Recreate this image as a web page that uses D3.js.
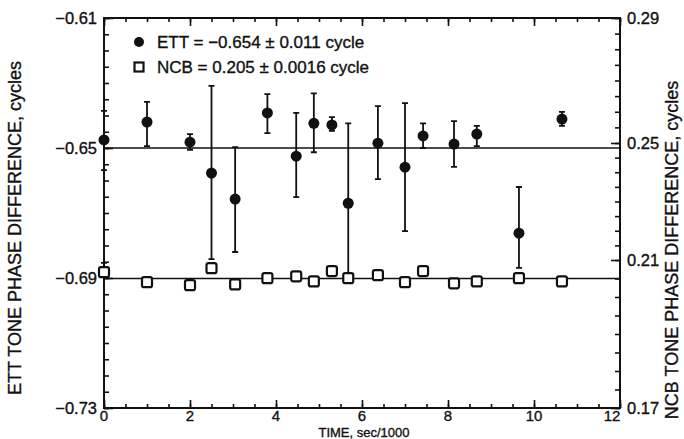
<!DOCTYPE html>
<meta charset="utf-8">
<title>ETT / NCB tone phase difference</title>

<style>

html, body {
  margin: 0;
  padding: 0;
  width: 684px;
  height: 439px;
  background: #fff;
}

svg {
  display: block;
}

text {
  font-family: "Liberation Sans", Arial, sans-serif;
  fill: #111;
  stroke: #111;
  stroke-width: 0.35px;
}

.frame {
  fill: none;
  stroke: #111;
  stroke-width: 2;
}

.tick line {
  stroke: #111;
  stroke-width: 1.6;
}

.bar {
  stroke: #111;
  stroke-width: 1.8;
}

.level {
  stroke: #111;
  stroke-width: 1.6;
}

</style>

<body>
<svg width="684" height="439"></svg>
</body>

<script src="https://d3js.org/d3.v7.min.js"></script>
<script>

// time, sec/1000
var times = [0, 1, 2, 2.5, 3.05, 3.8, 4.47, 4.88, 5.3, 5.68, 6.37, 7, 7.42, 8.14, 8.67, 9.65, 10.65];

// ETT tone phase difference (cycles), with error bar ends
var ettValues = [-0.6475, -0.642, -0.6482, -0.6577, -0.6657, -0.6392, -0.6525, -0.6424, -0.6429, -0.667, -0.6485, -0.6559, -0.6463, -0.6488, -0.6457, -0.6762, -0.6411];
var ettHigh   = [-0.6386, -0.6358, -0.6457, -0.6309, -0.6497, -0.6334, -0.6392, -0.6332, -0.6405, -0.6424, -0.6371, -0.6362, -0.6424, -0.6417, -0.6432, -0.662, -0.6389];
var ettLow    = [-0.6568, -0.6494, -0.6506, -0.6842, -0.682, -0.6454, -0.6651, -0.6513, -0.6447, -0.6897, -0.6596, -0.6756, -0.65, -0.6558, -0.6494, -0.6869, -0.6432];

// NCB tone phase difference (cycles)
var ncbValues = [0.2067, 0.204, 0.2032, 0.2078, 0.2034, 0.2051, 0.2056, 0.2042, 0.207, 0.2051, 0.2059, 0.204, 0.207, 0.2037, 0.2042, 0.2051, 0.2042];
var ncbHigh   = [0.2092, null, null, null, null, null, null, null, null, null, null, null, null, null, null, null, null];

var ettLevel = -0.65,
    ncbLevel = 0.205;

var xTicks = [0, 2, 4, 6, 8, 10, 12];
var leftTicks = [-0.61, -0.65, -0.69, -0.73];
var rightTicks = [0.29, 0.25, 0.21, 0.17];

var legendLabels = [
  "ETT = \u22120.654 \u00b1 0.011 cycle",
  "NCB = 0.205 \u00b1 0.0016 cycle"
];

var svg = d3.select("svg");

var pLeft = 104, pRight = 620, pTop = 18, pBottom = 408;

var x = d3.scaleLinear().domain([0, 12]).range([pLeft, pRight]);
var yL = d3.scaleLinear().domain([-0.73, -0.61]).range([pBottom, pTop]);
// the scanned right axis is not evenly spaced
var yR = d3.scaleLinear().domain([0.17, 0.21, 0.25, 0.29]).range([pBottom, 260, 143, pTop]);

function fmt(v) {
  return d3.format(".2f")(v).replace("-", "\u2212");
}

function minor(a, b, step) {
  return d3.range(Math.round((b - a) / step) + 1).map(function(i) { return a + i * step; });
}

function noDomain(g) { g.select(".domain").remove(); }

// axes, all ticks pointing inward
svg.append("g")
    .attr("transform", "translate(0," + pBottom + ")")
    .call(d3.axisTop(x).tickValues(minor(0, 12, 0.5)).tickSize(4).tickFormat(""))
    .call(noDomain);
svg.append("g")
    .attr("transform", "translate(0," + pBottom + ")")
    .call(d3.axisTop(x).tickValues(xTicks).tickSize(8).tickFormat(""))
    .call(noDomain);
svg.append("g")
    .attr("transform", "translate(0," + pTop + ")")
    .call(d3.axisBottom(x).tickValues(minor(0, 12, 0.5)).tickSize(4).tickFormat(""))
    .call(noDomain);
svg.append("g")
    .attr("transform", "translate(0," + pTop + ")")
    .call(d3.axisBottom(x).tickValues(xTicks).tickSize(8).tickFormat(""))
    .call(noDomain);

svg.append("g")
    .attr("transform", "translate(" + pLeft + ",0)")
    .call(d3.axisRight(yL).tickValues(minor(-0.73, -0.61, 0.005)).tickSize(5).tickFormat(""))
    .call(noDomain);
svg.append("g")
    .attr("transform", "translate(" + pLeft + ",0)")
    .call(d3.axisRight(yL).tickValues(leftTicks).tickSize(9).tickFormat(""))
    .call(noDomain);

svg.append("g")
    .attr("transform", "translate(" + pRight + ",0)")
    .call(d3.axisLeft(yR).tickValues(minor(0.17, 0.29, 0.005)).tickSize(5).tickFormat(""))
    .call(noDomain);
svg.append("g")
    .attr("transform", "translate(" + pRight + ",0)")
    .call(d3.axisLeft(yR).tickValues(rightTicks).tickSize(9).tickFormat(""))
    .call(noDomain);

svg.append("rect")
    .attr("class", "frame")
    .attr("x", pLeft)
    .attr("y", pTop)
    .attr("width", pRight - pLeft)
    .attr("height", pBottom - pTop);

// tick labels
svg.selectAll(".xlab")
  .data(xTicks)
  .enter().append("text")
    .attr("x", function(d) { return x(d) - (d === 12 ? 8 : 0); })
    .attr("y", pBottom + 13)
    .attr("text-anchor", "middle")
    .style("font-size", "15px")
    .text(function(d) { return d; });

svg.selectAll(".llab")
  .data(leftTicks)
  .enter().append("text")
    .attr("x", pLeft - 7)
    .attr("y", function(d) { return yL(d); })
    .attr("dy", "0.35em")
    .attr("text-anchor", "end")
    .style("font-size", "16.5px")
    .text(fmt);

svg.selectAll(".rlab")
  .data(rightTicks)
  .enter().append("text")
    .attr("x", pRight + 7)
    .attr("y", function(d) { return yR(d); })
    .attr("dy", "0.35em")
    .style("font-size", "16.5px")
    .text(fmt);

// axis titles
svg.append("text")
    .attr("x", (pLeft + pRight) / 2 + 2)
    .attr("y", 436.5)
    .attr("text-anchor", "middle")
    .style("font-size", "13px")
    .text("TIME, sec/1000");

svg.append("text")
    .attr("transform", "translate(21,228) rotate(-90)")
    .attr("text-anchor", "middle")
    .style("font-size", "18px")
    .text("ETT TONE PHASE DIFFERENCE, cycles");

svg.append("text")
    .attr("transform", "translate(678,250) rotate(-90)")
    .attr("text-anchor", "middle")
    .style("font-size", "18px")
    .text("NCB TONE PHASE DIFFERENCE, cycles");

// mean levels
svg.append("line")
    .attr("class", "level")
    .attr("x1", pLeft).attr("x2", pRight)
    .attr("y1", yL(ettLevel)).attr("y2", yL(ettLevel));
svg.append("line")
    .attr("class", "level")
    .attr("x1", pLeft).attr("x2", pRight)
    .attr("y1", yR(ncbLevel)).attr("y2", yR(ncbLevel));

var idx = d3.range(times.length);

// ETT error bars
var ett = svg.append("g");
ett.selectAll(".bar")
  .data(idx)
  .enter().append("path")
    .attr("class", "bar")
    .attr("fill", "none")
    .attr("d", function(i) {
      var cx = x(times[i]), y1 = yL(ettHigh[i]), y2 = yL(ettLow[i]);
      return "M" + (cx - 3) + "," + y1 + "H" + (cx + 3) +
             "M" + cx + "," + y1 + "V" + y2 +
             "M" + (cx - 3) + "," + y2 + "H" + (cx + 3);
    });

// NCB
var ncb = svg.append("g");
ncb.selectAll(".bar")
  .data(idx.filter(function(i) { return ncbHigh[i] != null; }))
  .enter().append("path")
    .attr("class", "bar")
    .attr("fill", "none")
    .attr("d", function(i) {
      var cx = x(times[i]), y1 = yR(ncbHigh[i]), y2 = yR(ncbValues[i]);
      return "M" + (cx - 3) + "," + y1 + "H" + (cx + 3) + "M" + cx + "," + y1 + "V" + y2;
    });
ncb.selectAll("rect")
  .data(idx)
  .enter().append("rect")
    .attr("x", function(i) { return x(times[i]) - 5; })
    .attr("y", function(i) { return yR(ncbValues[i]) - 5; })
    .attr("width", 10)
    .attr("height", 10)
    .attr("rx", 2)
    .attr("fill", "#fff")
    .attr("stroke", "#111")
    .attr("stroke-width", 2.2);

ett.selectAll("circle")
  .data(idx)
  .enter().append("circle")
    .attr("cx", function(i) { return x(times[i]); })
    .attr("cy", function(i) { return yL(ettValues[i]); })
    .attr("r", 5.5)
    .attr("fill", "#111");

// legend
var legend = svg.append("g");
legend.append("circle")
    .attr("cx", 139).attr("cy", 42).attr("r", 5).attr("fill", "#111");
legend.append("rect")
    .attr("x", 134.5).attr("y", 62.5).attr("width", 9).attr("height", 9)
    .attr("fill", "#fff").attr("stroke", "#111").attr("stroke-width", 2.2);
legend.selectAll(".leg")
  .data(legendLabels)
  .enter().append("text")
    .attr("x", 157)
    .attr("y", function(d, i) { return 42 + i * 25; })
    .attr("dy", "0.36em")
    .style("font-size", "17px")
    .text(function(d) { return d; });

</script>
